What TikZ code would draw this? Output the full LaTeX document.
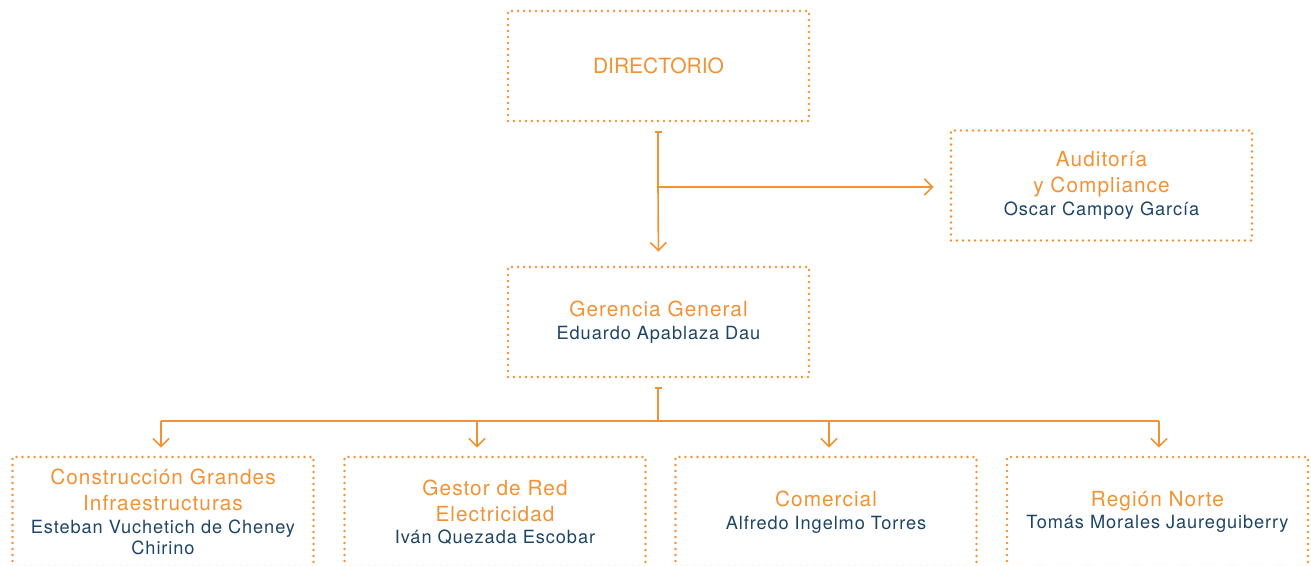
\documentclass[tikz,border=0pt]{standalone}
\usepackage{fontspec}
\setmainfont{TeX Gyre Heros}
\newfontfamily\chartfont{TeX Gyre Heros}[LetterSpace=5]
\usetikzlibrary{arrows.meta}
\definecolor{orgorange}{HTML}{F39234}
\definecolor{orgnavy}{HTML}{1D4566}

\tikzset{
  unitbox/.style={draw=orgorange, line width=1.4pt, dash pattern=on 0pt off 3pt, line cap=round,
    minimum width=150.5pt, minimum height=55pt, inner sep=0pt, align=center,
    text=orgorange, font=\chartfont\fontsize{10.4}{13}\selectfont},
  bus/.style={draw=orgorange, line width=0.8pt},
  link/.style={bus, -{Straight Barb[length=4pt,width=8pt]}},
  tick/.style={bus, {Bar[width=3.5pt]}-},
}
\newcommand{\person}{\color{orgnavy}\fontsize{9.1}{11}\selectfont}

\begin{document}
\begin{tikzpicture}[x=0.5pt, y=-0.5pt]
    \useasboundingbox (0,0) rectangle (1311,566);

    % boxes of the chart
    \node[unitbox, font=\fontsize{10.5}{13}\selectfont] (directorio) at (658.5,66) {DIRECTORIO};
    \node[unitbox] (auditoria) at (1101.5,185.5) {Auditoría\\y Compliance\\[-1.75pt]\person Oscar Campoy García};
    \node[unitbox] (gerencia) at (658.5,322) {Gerencia General\\[-1.75pt]\person Eduardo Apablaza Dau};

    \node[unitbox] (construccion) at (163,512) {Construcción Grandes\\Infraestructuras\\[-1.75pt]\person Esteban Vuchetich de Cheney\\[-2.25pt]\person Chirino};
    \node[unitbox] (gestor) at (495,512) {Gestor de Red\\Electricidad\\[-1.75pt]\person Iván Quezada Escobar};
    \node[unitbox] (comercial) at (826,512) {Comercial\\[-1.75pt]\person Alfredo Ingelmo Torres};
    \node[unitbox] (norte) at (1157.5,512) {Región Norte\\[-1.75pt]\person Tomás Morales Jaureguiberry};

    % connectors below the board
    \coordinate (dirtick) at (658,131);
    \coordinate (dirsplit) at (658,187);
    \draw[tick] (dirtick) -- (dirsplit);
    \draw[link, shorten >=7pt] (dirsplit) -- (gerencia.north);
    \draw[link, shorten >=8pt] (dirsplit) -- (auditoria.west |- dirsplit);

    % connectors below the general management
    \coordinate (gertick) at (658,387);
    \coordinate (gersplit) at (658,421);
    \coordinate (drop1) at (161,421);
    \coordinate (drop2) at (477,421);
    \coordinate (drop3) at (829,421);
    \coordinate (drop4) at (1159,421);
    \draw[tick] (gertick) -- (gersplit);
    \draw[bus] (drop1) -- (drop4);
    \foreach \d/\u in {drop1/construccion, drop2/gestor, drop3/comercial, drop4/norte}
      \draw[link, shorten >=4pt] (\d) -- (\d |- \u.north);
\end{tikzpicture}
\end{document}
